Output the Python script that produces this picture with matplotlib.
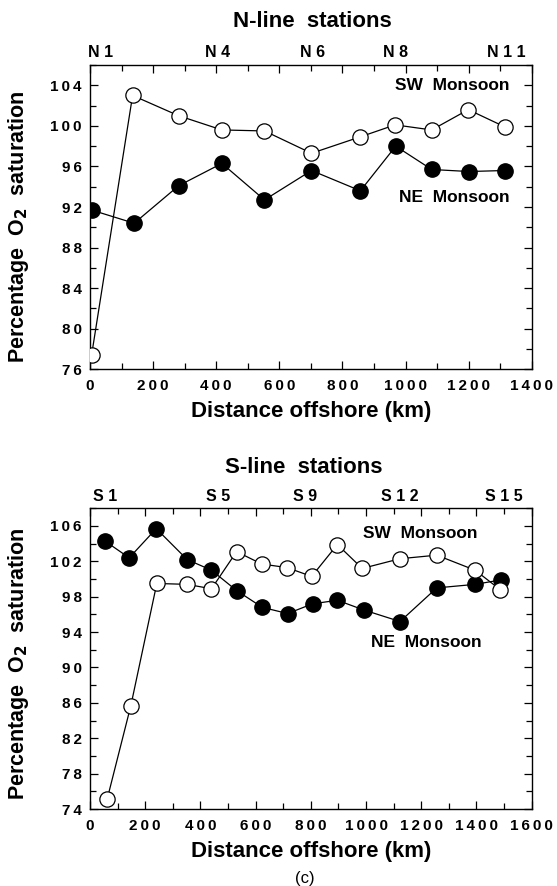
import matplotlib
matplotlib.use('Agg')
import matplotlib.pyplot as plt
import matplotlib.transforms as mtransforms
from matplotlib.ticker import MultipleLocator, FixedLocator, FixedFormatter

plt.rcParams['font.family'] = ['Liberation Sans', 'DejaVu Sans']
plt.rcParams['font.weight'] = 'bold'
plt.rcParams['axes.labelweight'] = 'bold'

# N-line (top panel)
n_sw_km = [5, 135, 281, 418, 553, 702, 855, 967, 1083, 1199, 1315]
n_sw_sat = [77.4, 103.0, 101.0, 99.6, 99.5, 97.3, 98.9, 100.1, 99.6, 101.6, 99.9]
n_ne_km = [5, 140, 281, 418, 553, 702, 857, 969, 1083, 1201, 1315]
n_ne_sat = [91.7, 90.4, 94.1, 96.3, 92.7, 95.6, 93.6, 98.0, 95.7, 95.5, 95.6]
n_station_names = ['N 1', 'N 4', 'N 6', 'N 8', 'N 1 1']
n_station_km = [33, 405, 705, 968, 1320]
n_xticks = [0, 200, 400, 600, 800, 1000, 1200, 1400]
n_yticks = [76, 80, 84, 88, 92, 96, 100, 104]

# S-line (bottom panel)
s_sw_km = [62, 148, 242, 352, 440, 531, 622, 713, 803, 896, 986, 1123, 1256, 1395, 1486]
s_sw_sat = [75.1, 85.7, 99.5, 99.4, 98.9, 103.1, 101.7, 101.3, 100.3, 103.9, 101.2, 102.3, 102.7, 101.0, 98.8]
s_ne_km = [54, 142, 240, 352, 440, 531, 624, 716, 806, 896, 992, 1123, 1256, 1395, 1488]
s_ne_sat = [104.3, 102.4, 105.7, 102.2, 101.0, 98.7, 96.8, 96.1, 97.2, 97.6, 96.5, 95.2, 99.0, 99.4, 99.9]
s_station_names = ['S 1', 'S 5', 'S 9', 'S 1 2', 'S 1 5']
s_station_km = [55, 465, 778, 1123, 1500]
s_xticks = [0, 200, 400, 600, 800, 1000, 1200, 1400, 1600]
s_yticks = [74, 78, 82, 86, 90, 94, 98, 102, 106]


def spaced(v):
    # the printed tick numbers are letter-spaced
    return '\u2009'.join(str(v))


def draw_panel(ax, sw_x, sw_y, ne_x, ne_y, xticks, yticks, xlim, ylim,
               names, name_km, sw_pos, ne_pos, ylab_y):
    ax.plot(ne_x, ne_y, color='black', lw=0.9, marker='o', ms=11,
            mfc='black', mec='black', zorder=3)
    ax.plot(sw_x, sw_y, color='black', lw=0.9, marker='o', ms=11,
            mfc='white', mec='black', mew=0.9, zorder=4)
    ax.set_xlim(*xlim)
    ax.set_ylim(*ylim)
    ax.xaxis.set_major_locator(FixedLocator(xticks))
    ax.xaxis.set_major_formatter(FixedFormatter([spaced(t) for t in xticks]))
    ax.xaxis.set_minor_locator(MultipleLocator(100))
    ax.yaxis.set_major_locator(FixedLocator(yticks))
    ax.yaxis.set_major_formatter(FixedFormatter([spaced(t) for t in yticks]))
    ax.yaxis.set_minor_locator(MultipleLocator(2))
    ax.tick_params(which='both', direction='in', top=True, right=True,
                   width=0.9, labelsize=11)
    ax.tick_params(axis='x', pad=7)
    ax.tick_params(axis='y', pad=6)
    ax.tick_params(which='major', length=6)
    ax.tick_params(which='minor', length=4)
    for s in ax.spines.values():
        s.set_linewidth(1.0)
    ax.set_xlabel('Distance offshore (km)', fontsize=16, labelpad=6)
    ax.set_ylabel('Percentage  O$_\\mathbf{2}$  saturation', fontsize=15.5)
    ax.yaxis.set_label_coords(-0.133, ylab_y)
    trans = mtransforms.blended_transform_factory(ax.transData, ax.transAxes)
    for nm, km in zip(names, name_km):
        ax.text(km, 1.015, nm, transform=trans, ha='center', va='bottom',
                fontsize=11.5)
    ax.text(sw_pos[0], sw_pos[1], 'SW  Monsoon', ha='right', va='center', fontsize=12.5)
    ax.text(ne_pos[0], ne_pos[1], 'NE  Monsoon', ha='right', va='center', fontsize=12.5)


fig = plt.figure(figsize=(5.57, 8.86), dpi=100)
ax1 = fig.add_axes([0.1616, 0.5832, 0.7930, 0.3434])
ax2 = fig.add_axes([0.1616, 0.0869, 0.7930, 0.3394])

draw_panel(ax1, n_sw_km, n_sw_sat, n_ne_km, n_ne_sat, n_xticks, n_yticks,
           (0, 1400), (76, 106), n_station_names, n_station_km,
           (1330, 104.0), (1330, 92.9), 0.47)
draw_panel(ax2, s_sw_km, s_sw_sat, s_ne_km, s_ne_sat, s_xticks, s_yticks,
           (0, 1600), (74, 108), s_station_names, s_station_km,
           (1405, 105.1), (1418, 92.8), 0.483)

fig.text(0.56, 1 - 21.5 / 886, 'N-line  stations', ha='center', va='center', fontsize=16)
fig.text(0.545, 1 - 467 / 886, 'S-line  stations', ha='center', va='center', fontsize=16)
fig.text(0.548, 1 - 879 / 886, '(c)', ha='center', va='center', fontsize=12,
         fontweight='normal')

fig.savefig('out.png', dpi=100)
